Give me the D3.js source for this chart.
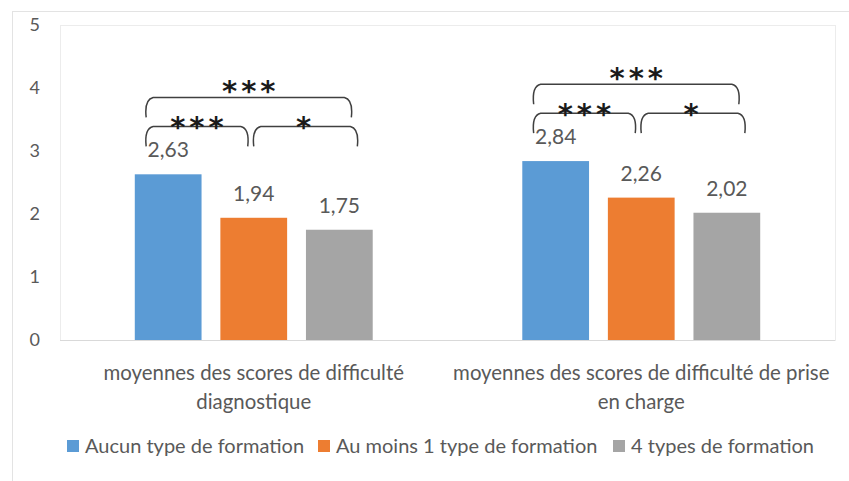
<!DOCTYPE html>
<html>
<head>
<meta charset="utf-8">
<script src="https://cdn.jsdelivr.net/npm/d3@7"></script>
<style>
  body { margin: 0; background: #fff; }
  text { font-family: Lato, "Open Sans", sans-serif; }
</style>
</head>
<body>
<script>
// chart values
let categories = [
  "moyennes des scores de difficulté diagnostique",
  "moyennes des scores de difficulté de prise en charge"
];
let categoryLines = [
  ["moyennes des scores de difficulté", "diagnostique"],
  ["moyennes des scores de difficulté de prise", "en charge"]
];
let series = ["Aucun type de formation", "Au moins 1 type de formation", "4 types de formation"];
let aucun = [2.63, 2.84];
let auMoins1 = [1.94, 2.26];
let quatreTypes = [1.75, 2.02];
let yTicks = [0, 1, 2, 3, 4, 5];

// significance brackets: from series index -> to series index, label
let brackets = [
  { from: 0, to: 1, level: 0, label: "***" },
  { from: 1, to: 2, level: 0, label: "*" },
  { from: 0, to: 2, level: 1, label: "***" }
];

let colors = ["#5B9BD5", "#ED7D31", "#A5A5A5"];
let values = [aucun, auMoins1, quatreTypes];

let width = 849;
let height = 481;
let plot = { left: 60, right: 835, top: 25, bottom: 340 };

let svg = d3
  .select("body")
  .append("svg")
  .attr("width", width)
  .attr("height", height);

// outer chart frame
svg
  .append("rect")
  .attr("x", 12.5)
  .attr("y", 11.5)
  .attr("width", width)
  .attr("height", height)
  .attr("fill", "#fff")
  .attr("stroke", "#e3e3e3");

// inner plot frame
svg
  .append("rect")
  .attr("x", plot.left + 0.5)
  .attr("y", plot.top + 0.5)
  .attr("width", plot.right - plot.left)
  .attr("height", plot.bottom - plot.top)
  .attr("fill", "none")
  .attr("stroke", "#ececec");

let y = d3.scaleLinear().domain([0, 5]).range([plot.bottom, plot.top]);

let x0 = d3
  .scaleBand()
  .domain(categories)
  .range([plot.left, plot.right])
  .paddingInner(0.386)
  .paddingOuter(0.193);

let x1 = d3
  .scaleBand()
  .domain(d3.range(series.length))
  .range([0, x0.bandwidth()])
  .paddingInner(0.22);

// baseline
svg
  .append("line")
  .attr("x1", plot.left)
  .attr("x2", plot.right)
  .attr("y1", y(0) + 0.5)
  .attr("y2", y(0) + 0.5)
  .attr("stroke", "#d9d9d9");

// y axis
let yAxis = svg
  .append("g")
  .attr("transform", `translate(${plot.left},0)`)
  .call(d3.axisLeft(y).tickValues(yTicks).tickSize(0).tickPadding(20).tickFormat(d3.format("d")));
yAxis.select(".domain").remove();
yAxis
  .selectAll("text")
  .attr("fill", "#595959")
  .style("font-size", "18px")
  .style("font-family", "Lato, sans-serif");

// bars
let groups = svg
  .append("g")
  .selectAll("g")
  .data(categories)
  .join("g")
  .attr("transform", (d) => `translate(${x0(d)},0)`);

groups
  .selectAll("rect")
  .data((d, i) => values.map((v, s) => ({ s: s, v: v[i] })))
  .join("rect")
  .attr("x", (d) => x1(d.s))
  .attr("y", (d) => y(d.v))
  .attr("width", x1.bandwidth())
  .attr("height", (d) => y(0) - y(d.v))
  .attr("fill", (d) => colors[d.s]);

// value labels
groups
  .selectAll("text.val")
  .data((d, i) => values.map((v, s) => ({ s: s, v: v[i] })))
  .join("text")
  .attr("class", "val")
  .attr("x", (d) => x1(d.s) + x1.bandwidth() / 2)
  .attr("y", (d) => y(d.v) - 17)
  .attr("text-anchor", "middle")
  .attr("fill", "#595959")
  .style("font-size", "21px")
  .text((d) => d3.format(".2f")(d.v).replace(".", ","));

// brackets
let center = (s) => x1(s) + x1.bandwidth() / 2;
groups.each(function (cat, i) {
  let g = d3.select(this);
  let top = d3.max(values, (v) => v[i]);
  brackets.forEach((b) => {
    let xa = center(b.from) - 22;
    let xb = b.level === 1 ? center(b.to) + 12 : b.to === 1 ? center(b.to) - 6 : center(b.to) + 18;
    if (b.level === 0 && b.from === 1) xa = center(b.from);
    let yy = y(top + (b.level === 1 ? 1.22 : 0.76));
    let drop = 20;
    g.append("path")
      .attr(
        "d",
        `M${xa},${yy + drop} Q${xa - 2},${yy + 2} ${xa + 7},${yy} L${xb - 7},${yy} Q${xb + 2},${yy + 2} ${xb},${yy + drop}`
      )
      .attr("fill", "none")
      .attr("stroke", "#404040")
      .attr("stroke-width", 1.5);
    g.append("text")
      .attr("x", (xa + xb) / 2 + (b.label.length > 1 ? 2 : 0))
      .attr("y", yy + (b.level === 1 ? 4 : 11))
      .attr("text-anchor", "middle")
      .attr("fill", "#1a1a1a")
      .style("font-family", "DejaVu Sans, sans-serif")
      .style("font-weight", "bold")
      .style("font-size", "29px")
      .style("letter-spacing", "4px")
      .text(b.label);
  });
});

// category labels
groups
  .append("text")
  .attr("text-anchor", "middle")
  .attr("fill", "#595959")
  .style("font-size", "20.4px")
  .selectAll("tspan")
  .data((d, i) => categoryLines[i])
  .join("tspan")
  .attr("x", x0.bandwidth() / 2)
  .attr("y", (d, k) => 380 + k * 29)
  .text((d) => d);

// legend
let legendX = [67, 318, 613];
let legend = svg
  .append("g")
  .selectAll("g")
  .data(series)
  .join("g")
  .attr("transform", (d, i) => `translate(${legendX[i]},440)`);
legend
  .append("rect")
  .attr("width", 12)
  .attr("height", 12)
  .attr("fill", (d, i) => colors[i]);
legend
  .append("text")
  .attr("x", 18)
  .attr("y", 13)
  .attr("fill", "#595959")
  .style("font-size", "20px")
  .text((d) => d);
</script>
</body>
</html>
